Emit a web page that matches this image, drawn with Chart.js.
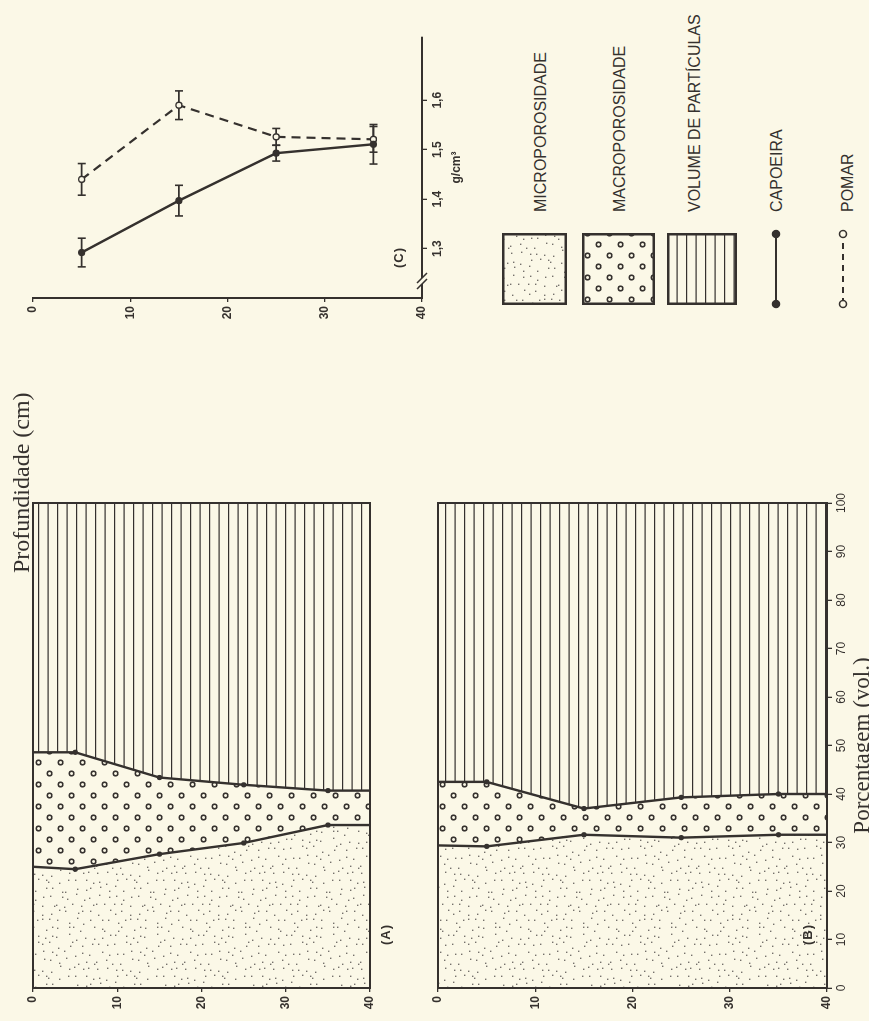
<!DOCTYPE html>
<html lang="pt">
<head>
<meta charset="utf-8">
<title>Porosidade e densidade do solo</title>
<script src="https://cdn.jsdelivr.net/npm/chart.js"></script>
<style>
html, body { margin: 0; padding: 0; background: #fbf8e7; overflow: hidden; }
body { width: 869px; height: 1021px; position: relative; }
/* the figure is built upright and turned a quarter turn, like the printed page */
#fig { position: absolute; left: 0; top: 0; width: 1021px; height: 869px;
  transform-origin: 0 0; transform: translate(0, 1021px) rotate(-90deg); }
#fig canvas, #fig .t { position: absolute; }
.t { white-space: nowrap; color: #35312e; font-family: 'Liberation Sans', Arial, sans-serif; }
.serif { font-family: 'Liberation Serif', 'Times New Roman', serif; font-size: 24px; line-height: 24px; }
.leg { font-size: 16px; line-height: 18px; }
.tag { font-size: 13px; font-weight: bold; letter-spacing: 1px; line-height: 14px; }
</style>
</head>
<body>
<div id="fig">
  <canvas id="chartA" width="560" height="426" style="left:0;top:0"></canvas>
  <canvas id="chartB" width="560" height="443" style="left:0;top:426px"></canvas>
  <canvas id="chartC" width="361" height="470" style="left:660px;top:0"></canvas>
  <div class="t serif" style="left:448px;top:9px">Profundidade (cm)</div>
  <div class="t tag" style="left:76px;top:379px">(A)</div>
  <div class="t tag" style="left:76px;top:801px">(B)</div>
  <div class="t tag" style="left:753px;top:392px">(C)</div>
  <div id="legend"></div>
</div>
<script>
(function() {
'use strict';

const INK = '#35312e';
const BG = '#fbf8e7';
const SERIF = "'Liberation Serif', 'Times New Roman', serif";

// profundidade (cm) onde as fronteiras foram lidas
const depths = [0, 5, 15, 25, 35, 40];
// % vol. : microporosidade (fronteira inferior) e micro+macro (fronteira superior)
const microA = [25.0, 24.5, 27.6, 29.9, 33.6, 33.6];
const poreA = [48.6, 48.6, 43.4, 41.9, 40.7, 40.7];
const microB = [29.4, 29.2, 31.6, 31.0, 31.6, 31.6];
const poreB = [42.5, 42.5, 37.0, 39.3, 40.0, 40.0];
const depthTicks = [0, 10, 20, 30, 40];
const pctTicks = [0, 10, 20, 30, 40, 50, 60, 70, 80, 90, 100];

// densidade do solo (g/cm3)
const densDepths = [5, 15, 25, 35];
const capoeira = [1.292, 1.397, 1.493, 1.511];
const capoeiraErr = [0.029, 0.031, 0.016, 0.040];
const pomar = [1.440, 1.590, 1.526, 1.521];
const pomarErr = [0.032, 0.029, 0.017, 0.026];
const densTicks = [1.3, 1.4, 1.5, 1.6];
const densLabels = ['1,3', '1,4', '1,5', '1,6'];

const legendLabels = ['MICROPOROSIDADE', 'MACROPOROSIDADE', 'VOLUME DE PARTÍCULAS', 'CAPOEIRA', 'POMAR'];

Chart.defaults.font.family = "'Liberation Sans', Arial, sans-serif";
Chart.defaults.color = INK;

function mkPattern(w, h, draw) {
  const c = document.createElement('canvas');
  c.width = w;
  c.height = h;
  const g = c.getContext('2d');
  draw(g);
  return g.createPattern(c, 'repeat');
}

// pontilhado: grade 8x8 com deslocamento fixo (semente constante)
const patMicro = mkPattern(96, 88, g => {
  let s = 12345;
  const r = () => {
    s = (s * 1103515245 + 12345) % 2147483648;
    return s / 2147483648;
  };
  g.fillStyle = '#75716b';
  for (let gx = 0; gx < 12; gx++) {
    for (let gy = 0; gy < 11; gy++) {
      const x = gx * 8 + Math.floor(r() * 7), y = gy * 8 + Math.floor(r() * 7);
      g.fillRect(x, y, 1.4, 1.4);
    }
  }
});
const patMacro = mkPattern(22, 22, g => {
  g.strokeStyle = INK;
  g.lineWidth = 1.6;
  [[5.5, 5.5], [16.5, 16.5]].forEach(p => {
    g.beginPath();
    g.arc(p[0], p[1], 2.3, 0, Math.PI * 2);
    g.stroke();
  });
});
const patHatch = mkPattern(10, 19, g => {
  g.fillStyle = INK;
  g.fillRect(0, 0, 10, 1.2);
  g.fillRect(0, 9.5, 10, 1.2);
});

const framePlugin = {
  id: 'frame',
  afterDatasetsDraw(chart) {
    const a = chart.chartArea, g = chart.ctx;
    g.save();
    g.strokeStyle = INK;
    g.lineWidth = 2;
    g.strokeRect(a.left, a.top, a.right - a.left, a.bottom - a.top);
    g.restore();
  }
};

function depthAxis(width) {
  return {
    type: 'linear', reverse: true, min: 0, max: 40,
    afterBuildTicks: s => { s.ticks = depthTicks.map(v => ({value: v})); },
    ticks: {font: {size: 12, weight: 'bold'}, padding: 4},
    grid: {drawOnChartArea: false, tickLength: 4, color: INK, lineWidth: 1.3},
    border: {color: INK, width: 2},
    afterFit: s => { s.width = width; }
  };
}

function profile(id, micro, pore, withPct, pad) {
  const radius = depths.map(d => (d > 0 && d < 40) ? 2.6 : 0);
  const bound = (vals, pat) => ({
    data: depths.map((d, i) => ({x: vals[i], y: d})),
    borderColor: INK, borderWidth: 2.4, tension: 0,
    pointRadius: radius, pointBackgroundColor: INK, pointBorderWidth: 0,
    backgroundColor: pat, fill: '-1'
  });
  const edge = (v, pat) => ({
    data: depths.map(d => ({x: v, y: d})),
    borderColor: 'transparent', borderWidth: 0, pointRadius: 0,
    backgroundColor: pat || 'transparent', fill: pat ? '-1' : false
  });
  return new Chart(document.getElementById(id), {
    type: 'line',
    data: {datasets: [edge(0), bound(micro, patMicro), bound(pore, patMacro), edge(100, patHatch)]},
    options: {
      indexAxis: 'y', responsive: false, animation: false, events: [],
      layout: {padding: pad},
      plugins: {legend: {display: false}, tooltip: {enabled: false}},
      scales: {
        x: {
          type: 'linear', min: 0, max: 100, display: withPct,
          afterBuildTicks: s => { s.ticks = pctTicks.map(v => ({value: v})); },
          ticks: {font: {size: 12}, padding: 2, maxRotation: 0, autoSkip: false},
          grid: {drawOnChartArea: false, tickLength: 5, color: INK, lineWidth: 1.3},
          border: {color: INK, width: 2},
          title: {display: true, text: 'Porcentagem (vol.)', color: INK,
                  font: {family: SERIF, size: 23, lineHeight: 1}, padding: {top: 0, bottom: -5}},
          afterFit: s => { s.height = 42; }
        },
        y: depthAxis(33)
      }
    },
    plugins: [framePlugin]
  });
}

profile('chartA', microA, poreA, false, {top: 33, right: 42, bottom: 14, left: 0});
profile('chartB', microB, poreB, true, {top: 12, right: 42, bottom: 0, left: 0});

// (C) densidade
const errPlugin = {
  id: 'errbars',
  beforeDatasetsDraw(chart) {
    const xs = chart.scales.x, ys = chart.scales.y, g = chart.ctx;
    g.save();
    g.strokeStyle = INK;
    g.lineWidth = 1.6;
    chart.data.datasets.forEach(ds => {
      ds.err.forEach((e, i) => {
        const y = ys.getPixelForValue(densDepths[i]);
        const v = ds.data[i].x;
        const x1 = xs.getPixelForValue(v - e), x2 = xs.getPixelForValue(v + e);
        g.beginPath();
        g.moveTo(x1, y); g.lineTo(x2, y);
        g.moveTo(x1, y - 4); g.lineTo(x1, y + 4);
        g.moveTo(x2, y - 4); g.lineTo(x2, y + 4);
        g.stroke();
      });
    });
    g.restore();
  }
};
const breakPlugin = {
  id: 'axisBreak',
  afterDraw(chart) {
    const xs = chart.scales.x, g = chart.ctx;
    const y = xs.top, x0 = xs.left + 11;
    g.save();
    g.fillStyle = BG;
    g.fillRect(x0 + 3, y - 2, 6, 4);
    g.strokeStyle = INK;
    g.lineWidth = 1.5;
    g.beginPath();
    g.moveTo(x0 - 2, y - 5); g.lineTo(x0 + 8, y + 5);
    g.moveTo(x0 + 4, y - 5); g.lineTo(x0 + 14, y + 5);
    g.stroke();
    g.restore();
  }
};

new Chart(document.getElementById('chartC'), {
  type: 'line',
  data: {
    datasets: [
      {label: 'CAPOEIRA', data: densDepths.map((d, i) => ({x: capoeira[i], y: d})), err: capoeiraErr,
       borderColor: INK, borderWidth: 2.4, pointRadius: 3, pointBackgroundColor: INK,
       pointBorderColor: INK, pointBorderWidth: 1.2, fill: false},
      {label: 'POMAR', data: densDepths.map((d, i) => ({x: pomar[i], y: d})), err: pomarErr,
       borderColor: INK, borderWidth: 2.2, borderDash: [9, 6], pointRadius: 3, pointBackgroundColor: BG,
       pointBorderColor: INK, pointBorderWidth: 1.4, fill: false}
    ]
  },
  options: {
    indexAxis: 'y', responsive: false, animation: false, events: [],
    layout: {padding: {top: 33, right: 37, bottom: 0, left: 0}},
    plugins: {legend: {display: false}, tooltip: {enabled: false}},
    scales: {
      x: {
        type: 'linear', min: 1.2, max: 1.728,
        afterBuildTicks: s => { s.ticks = densTicks.map(v => ({value: v})); },
        ticks: {callback: (v, i) => densLabels[i], font: {size: 12, weight: 'bold'}, padding: 3, maxRotation: 0},
        grid: {drawOnChartArea: false, tickLength: 5, color: INK, lineWidth: 1.3},
        border: {color: INK, width: 2},
        title: {display: true, text: 'g/cm³', color: INK,
                font: {size: 12, weight: 'bold', lineHeight: 1}, padding: {top: 0, bottom: 7}},
        afterFit: s => { s.height = 48; }
      },
      y: depthAxis(63)
    }
  },
  plugins: [errPlugin, breakPlugin]
});

// legenda
const fig = document.getElementById('fig');
const boxes = [
  {top: 502, h: 65, pat: patMicro},
  {top: 582, h: 73, pat: patMacro},
  {top: 667, h: 70, pat: patHatch},
  {top: 769, h: 14, line: [], open: false},
  {top: 836, h: 14, line: [6, 5], open: true}
];
const textCenters = [541, 620, 695, 777, 848];
boxes.forEach((b, i) => {
  const c = document.createElement('canvas');
  const w = b.pat ? 72 : 80;
  c.width = w;
  c.height = b.h;
  c.style.left = (b.pat ? 716 : 712) + 'px';
  c.style.top = b.top + 'px';
  fig.appendChild(c);
  const g = c.getContext('2d');
  g.strokeStyle = INK;
  if (b.pat) {
    g.fillStyle = b.pat;
    g.fillRect(0, 0, w, b.h);
    g.lineWidth = 2.5;
    g.strokeRect(1.25, 1.25, w - 2.5, b.h - 2.5);
  } else {
    g.lineWidth = 2.2;
    g.setLineDash(b.line);
    g.beginPath();
    g.moveTo(5, 7);
    g.lineTo(75, 7);
    g.stroke();
    g.setLineDash([]);
    [5, 75].forEach(x => {
      g.beginPath();
      g.arc(x, 7, 3.5, 0, Math.PI * 2);
      g.fillStyle = b.open ? BG : INK;
      g.fill();
      g.lineWidth = 1.5;
      g.stroke();
    });
  }
  const t = document.createElement('div');
  t.className = 't leg';
  t.style.left = '809px';
  t.style.top = (textCenters[i] - 9) + 'px';
  t.textContent = legendLabels[i];
  fig.appendChild(t);
});
})();
</script>
</body>
</html>
